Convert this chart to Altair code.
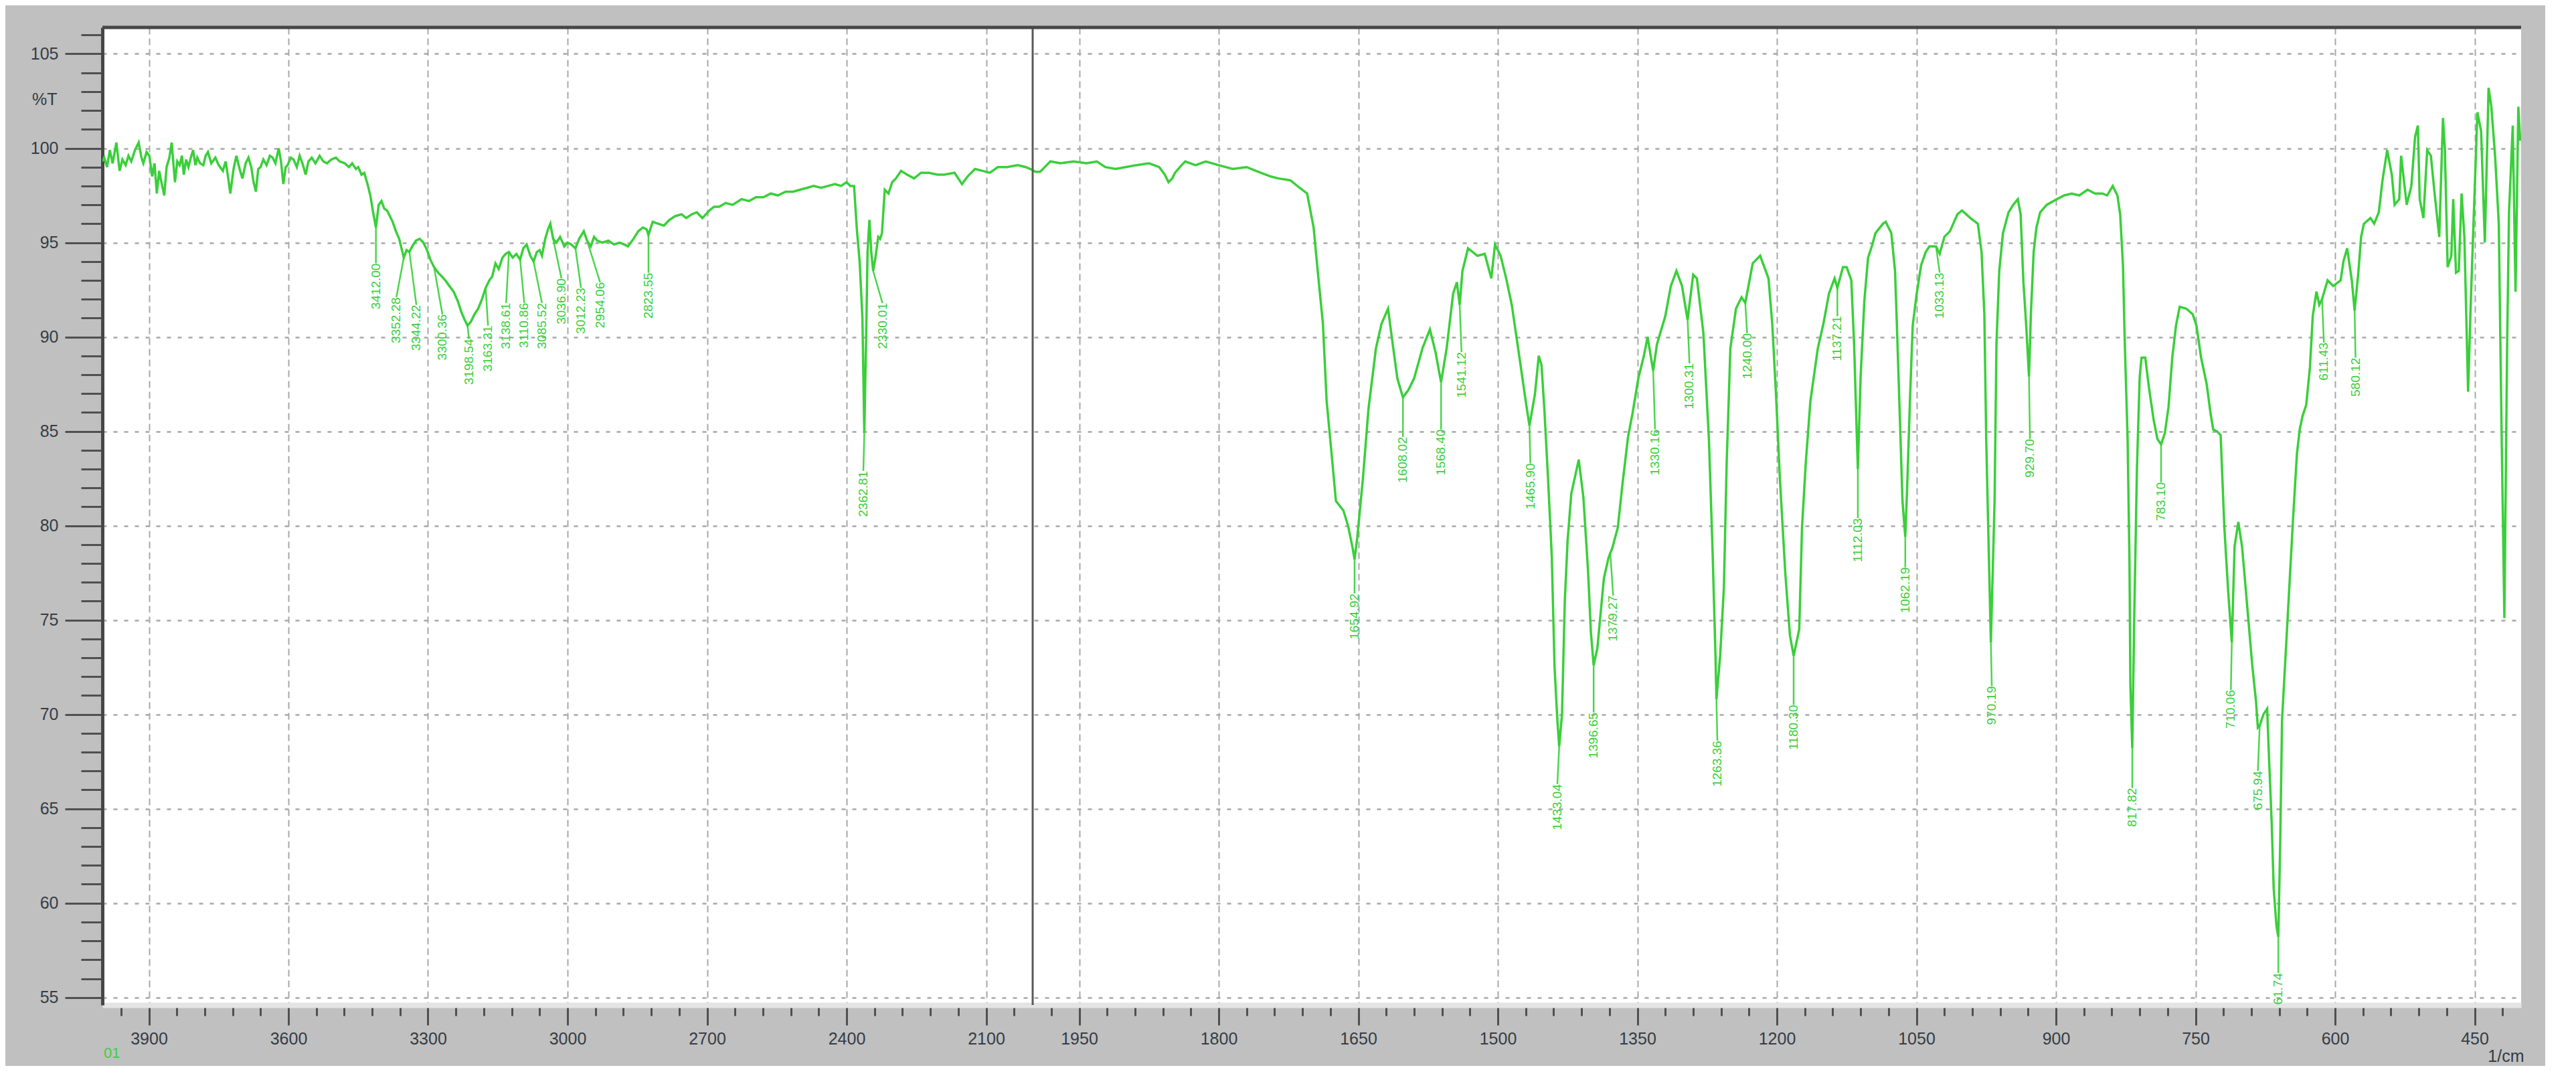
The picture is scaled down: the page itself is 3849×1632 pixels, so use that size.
import altair as alt
import pandas as pd

# ---------------- spectrum (wavenumber in 1/cm, %T) ----------------
wavenumber = [
    4000, 3996, 3990, 3984, 3978, 3970, 3963, 3957, 3950, 3944,
    3938, 3930, 3922, 3916, 3912, 3905, 3899, 3893, 3888, 3883,
    3878, 3874, 3867, 3862, 3856, 3851, 3844, 3839, 3834, 3829,
    3825, 3820, 3815, 3810, 3805, 3800, 3796, 3790, 3783, 3778,
    3773, 3766, 3757, 3750, 3741, 3735, 3730, 3725, 3718, 3712,
    3705, 3699, 3692, 3686, 3680, 3675, 3670, 3665, 3660, 3654,
    3647, 3640, 3634, 3628, 3621, 3616, 3611, 3606, 3602, 3595,
    3589, 3582, 3576, 3570, 3563, 3557, 3550, 3542, 3533, 3525,
    3517, 3508, 3498, 3490, 3479, 3470, 3463, 3455, 3450, 3443,
    3437, 3430, 3424, 3418, 3412, 3406, 3400, 3394, 3388, 3382,
    3376, 3369, 3362, 3356, 3352, 3346, 3340, 3334, 3326, 3318,
    3310, 3302, 3295, 3287, 3278, 3270, 3263, 3254, 3245, 3236,
    3228, 3221, 3215, 3208, 3200, 3192, 3184, 3176, 3168, 3162,
    3155, 3148, 3140, 3133, 3126, 3118, 3110, 3102, 3095, 3088,
    3080, 3073, 3066, 3060, 3055, 3048, 3042, 3037, 3031, 3024,
    3016, 3007, 3000, 2992, 2983, 2975, 2965, 2958, 2950, 2943,
    2936, 2925, 2912, 2900, 2888, 2878, 2870, 2858, 2848, 2838,
    2830, 2826, 2817, 2805, 2793, 2781, 2769, 2755, 2745, 2733,
    2722, 2710, 2695, 2685, 2674, 2660, 2645, 2626, 2610, 2595,
    2579, 2563, 2548, 2531, 2515, 2500, 2485, 2471, 2455, 2440,
    2425, 2412, 2400, 2392, 2384, 2378, 2372, 2366, 2362, 2358,
    2355, 2351, 2347, 2343, 2338, 2332, 2328, 2324, 2318, 2310,
    2302, 2294, 2283, 2270, 2255, 2240, 2223, 2205, 2190, 2168,
    2160, 2152, 2140, 2124, 2108, 2092, 2075, 2055, 2032, 2015,
    2005, 1997, 1992, 1985, 1981, 1970, 1956, 1942, 1931, 1922,
    1911, 1900, 1889, 1875, 1864, 1858, 1854, 1850, 1847, 1840,
    1836, 1825, 1814, 1800, 1785, 1770, 1760, 1744, 1736, 1723,
    1713, 1705, 1698, 1694, 1688, 1684, 1680, 1674, 1666, 1661,
    1656, 1654, 1651, 1645, 1639, 1631, 1625, 1618, 1614, 1608,
    1602, 1596, 1590, 1581, 1573, 1567, 1561, 1555, 1548, 1544,
    1541, 1538, 1532, 1522, 1514, 1507, 1503, 1497, 1491, 1485,
    1477, 1470, 1466, 1460, 1456, 1453, 1450, 1446, 1442, 1439,
    1436, 1434, 1431, 1428, 1425, 1421, 1413, 1408, 1403, 1400,
    1397, 1393, 1386, 1381, 1377, 1371, 1366, 1360, 1355, 1349,
    1343, 1339, 1333, 1329, 1320, 1314, 1308, 1302, 1296, 1290,
    1286, 1279, 1273, 1269, 1266, 1265, 1261, 1257, 1254, 1250,
    1244, 1238, 1234, 1226, 1218, 1209, 1205, 1201, 1197, 1191,
    1186, 1182, 1176, 1173, 1169, 1164, 1156, 1150, 1144, 1138,
    1135, 1129, 1125, 1120, 1117, 1114, 1113, 1110, 1106, 1102,
    1098, 1094, 1086, 1083, 1077, 1073, 1071, 1068, 1065, 1062,
    1060, 1057, 1054, 1050, 1045, 1040, 1036, 1029, 1025, 1020,
    1014, 1006, 1001, 992, 984, 980, 977, 975, 972, 970,
    966, 964, 961, 957, 951, 946, 941, 938, 935, 932,
    929, 927, 924, 921, 917, 910, 899, 891, 883, 875,
    866, 858, 850, 845, 839, 834, 831, 828, 826, 823,
    821, 820, 818, 816, 813, 810, 808, 804, 800, 795,
    791, 787, 783, 779, 775, 771, 767, 760, 753, 749,
    744, 738, 734, 731, 727, 723, 719, 715, 711, 708,
    704, 700, 697, 693, 689, 685, 683, 681, 677, 673,
    671, 668, 666, 663, 661, 659, 657, 653, 649, 645,
    641, 638, 635, 631, 627, 624, 620, 617, 614, 611,
    608, 602, 594, 591, 587, 582, 579, 575, 572, 569,
    562, 558, 553, 549, 544, 539, 536, 531, 529, 523,
    518, 514, 511, 509, 505, 501, 497, 493, 488, 484,
    482, 479, 475, 473, 470, 467, 464, 461, 457, 454,
    451, 447, 443, 439, 435, 432, 428, 424, 421, 418,
    415, 413, 409, 406, 403, 401,
]

transmittance = [
    99.3, 99.5, 99.0, 99.9, 99.2, 100.3, 98.8, 99.4, 99.1, 99.6,
    99.3, 99.9, 100.3, 99.5, 99.2, 99.8, 99.6, 98.5, 99.2, 97.6,
    98.8, 98.3, 97.5, 99.0, 99.5, 100.3, 98.2, 99.3, 99.1, 99.6,
    98.6, 99.4, 99.0, 99.5, 99.9, 99.1, 99.5, 99.2, 99.1, 99.6,
    99.8, 99.2, 99.5, 99.1, 98.8, 99.3, 98.5, 97.6, 98.9, 99.6,
    98.9, 98.4, 99.2, 99.5, 99.0, 98.2, 97.7, 98.9, 99.0, 99.4,
    99.1, 99.6, 99.5, 99.2, 100.0, 99.3, 98.1, 99.0, 99.1, 99.5,
    99.4, 99.0, 99.6, 99.2, 98.6, 99.3, 99.5, 99.2, 99.6, 99.3,
    99.2, 99.4, 99.5, 99.3, 99.2, 99.0, 99.2, 98.9, 99.0, 98.6,
    98.7, 98.1, 97.5, 96.6, 95.8, 97.0, 97.2, 96.8, 96.7, 96.4,
    96.1, 95.6, 95.2, 94.6, 94.2, 94.6, 94.5, 94.8, 95.1, 95.2,
    95.0, 94.6, 94.1, 93.7, 93.4, 93.2, 93.0, 92.7, 92.4, 91.9,
    91.3, 90.9, 90.6, 90.8, 91.2, 91.5, 92.0, 92.6, 93.0, 93.2,
    93.9, 93.6, 94.2, 94.4, 94.5, 94.2, 94.4, 94.1, 94.7, 94.9,
    94.3, 94.0, 94.5, 94.6, 94.3, 95.2, 95.7, 96.0, 95.2, 95.0,
    95.3, 94.8, 95.0, 94.9, 94.7, 95.2, 95.6, 95.1, 94.8, 95.3,
    95.1, 95.0, 95.1, 94.9, 95.0, 94.9, 94.8, 95.2, 95.6, 95.8,
    95.7, 95.4, 96.1, 96.0, 95.9, 96.2, 96.4, 96.5, 96.3, 96.5,
    96.6, 96.3, 96.7, 96.9, 96.9, 97.1, 97.0, 97.3, 97.2, 97.4,
    97.4, 97.6, 97.5, 97.7, 97.7, 97.8, 97.9, 98.0, 97.9, 98.0,
    98.1, 98.0, 98.2, 98.0, 98.0, 95.7, 94.0, 91.0, 84.9, 90.0,
    94.5, 96.2, 94.5, 93.5, 94.2, 95.3, 95.2, 95.5, 97.8, 97.6,
    98.2, 98.4, 98.8, 98.6, 98.4, 98.7, 98.7, 98.6, 98.6, 98.7,
    98.4, 98.1, 98.5, 98.9, 98.8, 98.7, 99.0, 99.0, 99.1, 99.0,
    98.9, 98.75, 98.75, 99.1, 99.3, 99.2, 99.3, 99.2, 99.3, 99.0,
    98.9, 99.0, 99.1, 99.2, 99.0, 98.6, 98.2, 98.4, 98.7, 99.1,
    99.3, 99.1, 99.3, 99.1, 98.9, 99.0, 98.8, 98.5, 98.4, 98.3,
    97.9, 97.6, 95.8, 93.7, 90.7, 86.6, 84.5, 81.3, 80.8, 80.0,
    78.8, 78.2, 79.4, 82.5, 86.2, 89.4, 90.7, 91.5, 90.0, 87.8,
    86.8, 87.2, 87.8, 89.4, 90.4, 89.2, 87.6, 89.4, 92.3, 92.9,
    91.7, 93.5, 94.7, 94.3, 94.4, 93.1, 94.9, 94.3, 93.1, 91.7,
    89.0, 86.6, 85.3, 87.0, 89.0, 88.5, 86.2, 82.5, 78.4, 72.5,
    69.7, 68.3, 70.0, 76.0, 79.2, 81.7, 83.5, 81.5, 77.6, 74.4,
    72.6, 73.5, 77.2, 78.3, 78.8, 79.9, 82.2, 84.7, 86.0, 87.8,
    89.0, 90.0, 88.2, 89.6, 91.1, 92.7, 93.5, 92.7, 90.9, 93.3,
    93.1, 90.2, 84.5, 78.4, 73.1, 70.8, 73.1, 76.7, 83.3, 89.4,
    91.5, 92.1, 91.8, 93.9, 94.3, 93.1, 90.7, 87.0, 82.7, 77.5,
    74.2, 73.1, 74.5, 79.9, 83.3, 86.6, 89.4, 90.7, 92.3, 93.1,
    92.6, 93.7, 93.7, 93.0, 89.6, 84.6, 83.0, 87.9, 91.9, 94.2,
    94.8, 95.5, 96.0, 96.1, 95.5, 93.5, 90.6, 86.0, 81.3, 79.4,
    82.0, 86.6, 90.6, 92.2, 93.8, 94.5, 94.8, 94.8, 94.4, 95.3,
    95.6, 96.5, 96.7, 96.3, 96.0, 94.5, 91.2, 84.6, 78.1, 73.8,
    81.3, 89.6, 93.5, 95.5, 96.6, 97.0, 97.3, 96.5, 92.9, 90.6,
    87.9, 91.2, 94.5, 95.8, 96.6, 97.0, 97.3, 97.5, 97.6, 97.5,
    97.8, 97.6, 97.6, 97.5, 98.0, 97.5, 96.5, 93.8, 89.6, 84.6,
    78.1, 71.5, 68.2, 74.8, 83.0, 87.9, 88.9, 88.9, 87.3, 85.6,
    84.6, 84.3, 84.9, 86.3, 88.9, 90.6, 91.6, 91.5, 91.2, 90.6,
    88.9, 87.5, 86.0, 85.1, 85.0, 84.8, 79.9, 76.6, 73.8, 78.9,
    80.2, 78.9, 77.2, 74.9, 72.6, 70.7, 69.3, 69.4, 70.0, 70.3,
    67.7, 64.1, 60.8, 58.8, 58.2, 63.1, 69.7, 73.3, 76.9, 80.5,
    83.8, 85.1, 85.8, 86.4, 88.4, 91.1, 92.4, 91.7, 92.0, 92.5,
    93.0, 92.7, 93.0, 94.0, 94.7, 93.0, 91.4, 93.4, 95.3, 96.0,
    96.3, 96.0, 96.6, 98.3, 99.9, 98.6, 97.0, 97.3, 99.6, 97.0,
    98.0, 100.6, 101.2, 97.3, 96.3, 99.9, 99.6, 97.6, 95.3, 101.6,
    100.0, 93.7, 94.3, 97.3, 93.4, 93.5, 97.6, 95.3, 87.1, 92.0,
    96.3, 101.9, 100.9, 95.0, 103.2, 102.2, 99.6, 96.0, 85.0, 75.1,
    89.7, 96.6, 101.2, 92.4, 102.2, 100.4,
]

# ---------------- peak annotations ----------------
peak_wn = [3412, 3352, 3340, 3287, 3215, 3176, 3126, 3102, 3073, 3031, 2983, 2958, 2826, 2362, 2343,
           1654, 1602, 1561, 1541, 1466, 1434, 1397, 1379, 1333, 1296, 1265, 1234, 1182, 1135, 1113,
           1062, 1029, 970, 929, 818, 787, 711, 681, 661, 614, 579]
peak_t = [95.8, 94.2, 94.5, 93.7, 90.6, 92.6, 94.5, 94.1, 94.0, 95.2, 94.7, 95.1, 95.4, 84.9, 93.5,
          78.2, 86.8, 87.6, 91.7, 85.3, 68.3, 72.6, 78.5, 88.2, 90.9, 70.8, 91.8, 73.1, 92.6, 83.0,
          79.4, 94.8, 73.8, 87.9, 68.2, 84.3, 73.8, 69.4, 58.2, 92.0, 91.4]
label_wn = [3412, 3368, 3325, 3269, 3212, 3171, 3132, 3093, 3055, 3013, 2971, 2930, 2826, 2364, 2323,
            1654, 1602, 1561, 1539, 1465, 1436, 1397, 1376, 1331, 1294, 1264, 1232, 1182, 1135, 1113,
            1062, 1025, 969, 928, 818, 787, 712, 683, 661, 612, 578]
label_top = [93.9, 92.1, 91.7, 91.2, 89.9, 90.6, 91.8, 91.8, 91.8, 93.1, 92.6, 92.9, 93.4, 82.9, 91.8,
             76.4, 84.7, 85.1, 89.2, 83.3, 66.3, 70.1, 76.3, 85.1, 88.6, 68.6, 90.2, 70.5, 91.1, 80.4,
             77.8, 93.4, 71.5, 84.6, 66.1, 82.3, 71.3, 67.0, 56.3, 89.7, 88.9]
label_text = ["3412.00", "3352.28", "3344.22", "3300.36", "3198.54", "3163.31", "3138.61", "3110.86",
              "3085.52", "3036.90", "3012.23", "2954.06", "2823.55", "2362.81", "2330.01",
              "1654.92", "1608.02", "1568.40", "1541.12", "1465.90", "1433.04", "1396.65", "1379.27",
              "1330.16", "1300.31", "1263.36", "1240.00", "1180.30", "1137.21", "1112.03",
              "1062.19", "1033.13", "970.19", "929.70", "817.82", "783.10", "710.06", "675.94",
              "661.74", "611.43", "580.12"]

# ---------------- axis ticks ----------------
x_major = [3900, 3600, 3300, 3000, 2700, 2400, 2100, 1950, 1800, 1650, 1500, 1350, 1200, 1050, 900, 750, 600, 450]
x_minor = [3960, 3840, 3780, 3720, 3660, 3540, 3480, 3420, 3360, 3240, 3180, 3120, 3060, 2940, 2880, 2820,
           2760, 2640, 2580, 2520, 2460, 2340, 2280, 2220, 2160, 2040,
           1980, 1920, 1890, 1860, 1830, 1770, 1740, 1710, 1680, 1620, 1590, 1560, 1530, 1470, 1440,
           1410, 1380, 1320, 1290, 1260, 1230, 1170, 1140, 1110, 1080, 1020, 990, 960, 930, 870, 840,
           810, 780, 720, 690, 660, 630, 570, 540, 510, 480, 420]
y_major = [55, 60, 65, 70, 75, 80, 85, 90, 95, 100, 105]
y_minor = [v for v in range(55, 107) if v not in y_major]
scale_break = [2000]
corner_label = ["01"]

assert len(wavenumber) == len(transmittance)

spec = pd.DataFrame({"wn": wavenumber, "t": transmittance})
peaks = pd.DataFrame({"pw": peak_wn, "pt": peak_t, "lw": label_wn, "lt": label_top, "txt": label_text})

W, H = 3614, 1461
FONT = "Liberation Sans"
GREEN = "#3acf3a"
TXT = "#363c44"

xscale = alt.Scale(domain=[4000, 2000, 400], range=[0, 1390, W], nice=False, zero=False)
yscale = alt.Scale(domain=[54.6, 106.4], nice=False, zero=False)

x_test = "indexof([" + ",".join(str(v) for v in x_major) + "], datum.value) >= 0"
y_test = "datum.value % 5 === 0"

x_axis = alt.Axis(
    values=x_major + x_minor, tickCount=1000, format="d",
    labelExpr="(" + x_test + ") ? datum.label : ''",
    labelOverlap=False, labelFlush=False,
    tickSize={"condition": {"test": x_test, "value": 30}, "value": 16},
    tickColor="#505050", tickWidth=3,
    grid=True, gridColor="#a8a8a8", gridDash=[10, 6], gridWidth=2,
    gridOpacity={"condition": {"test": x_test, "value": 1}, "value": 0},
    domainColor="#e4e4e4", domainWidth=8,
    labelFont=FONT, labelFontSize=25, labelColor=TXT, labelPadding=8,
    title="1/cm", titleFont=FONT, titleFontSize=25, titleFontWeight="normal", titleColor=TXT,
    titleX=W + 4, titleY=76, titleAlign="right", titleBaseline="middle", titleAngle=0,
)
y_axis = alt.Axis(
    values=y_major + y_minor, tickCount=1000, format="d",
    labelExpr="(" + y_test + ") ? datum.label : ''",
    labelOverlap=False, labelFlush=False,
    tickSize={"condition": {"test": y_test, "value": 56}, "value": 32},
    tickColor="#505050", tickWidth=3,
    grid=True, gridColor="#a8a8a8", gridDash=[6, 10], gridWidth=2.5,
    gridOpacity={"condition": {"test": y_test, "value": 1}, "value": 0},
    domainColor="#474747", domainWidth=5,
    labelFont=FONT, labelFontSize=25, labelColor=TXT, labelPadding=10,
    title="%T", titleFont=FONT, titleFontSize=25, titleFontWeight="normal", titleColor=TXT,
    titleAngle=0, titleX=-68, titleY=107, titleAlign="right", titleBaseline="middle",
)

line = alt.Chart(spec).mark_line(color=GREEN, strokeWidth=3.5, clip=True).encode(
    x=alt.X("wn:Q", scale=xscale, axis=x_axis),
    y=alt.Y("t:Q", scale=yscale, axis=y_axis),
    order=alt.Order("wn:Q", sort="descending"),
)

leaders = alt.Chart(peaks).mark_rule(color=GREEN, strokeWidth=2.5, opacity=0.9).encode(
    x=alt.X("pw:Q", scale=xscale), y=alt.Y("pt:Q", scale=yscale),
    x2="lw:Q", y2="lt:Q",
)

labels = alt.Chart(peaks).mark_text(
    angle=270, align="right", baseline="middle", color=GREEN, font=FONT, fontSize=19, clip=True
).encode(
    x=alt.X("lw:Q", scale=xscale), y=alt.Y("lt:Q", scale=yscale), text="txt:N",
)

brk = alt.Chart(pd.DataFrame({"b": scale_break})).mark_rule(color="#5a5a5a", strokeWidth=3).encode(
    x=alt.X("b:Q", scale=xscale)
)

top_frame = alt.Chart(alt.Data(values=[{}])).mark_rule(color="#474747", strokeWidth=5).encode(
    x=alt.value(0), x2=alt.value(W), y=alt.value(0)
)

corner = alt.Chart(pd.DataFrame({"c": corner_label})).mark_text(
    align="left", baseline="middle", color="#44cc44", font=FONT, fontSize=22
).encode(x=alt.value(2), y=alt.value(H + 72), text="c:N")

chart = alt.layer(line, leaders, labels, brk, top_frame, corner).properties(
    width=W, height=H,
    autosize=alt.AutoSizeParams(type="none"),
    padding={"left": 145, "top": 33, "right": 36, "bottom": 91},
    background="#c0c0c0",
).configure_view(fill="white", stroke=None)

chart.save("out.html", embed_options={"renderer": "svg", "actions": False})
